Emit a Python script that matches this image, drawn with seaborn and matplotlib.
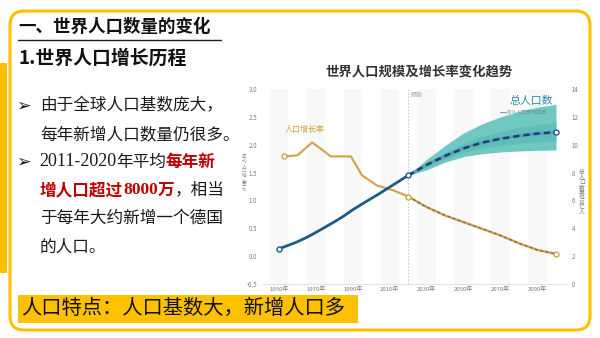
import matplotlib
matplotlib.use("Agg")
import matplotlib.pyplot as plt
from matplotlib.patches import FancyBboxPatch, Rectangle
import seaborn as sns

# ---- data -------------------------------------------------------------
# annual growth rate of world population (%), period midpoints
rate_hist_years = [1953, 1960, 1968, 1973, 1978, 1989, 1995, 2003, 2012, 2020]
rate_hist = [1.79, 1.81, 2.04, 1.92, 1.79, 1.79, 1.45, 1.27, 1.18, 1.07]
rate_proj_years = [2020, 2030, 2040, 2050, 2060, 2070, 2080, 2090, 2100]
rate_proj = [1.07, 0.88, 0.73, 0.61, 0.49, 0.37, 0.23, 0.11, 0.04]

# total population (billions)
pop_hist_years = [1950, 1955, 1960, 1965, 1970, 1975, 1980, 1985,
                  1990, 1995, 2000, 2005, 2010, 2015, 2020]
pop_hist = [2.53, 2.77, 3.03, 3.34, 3.70, 4.08, 4.46, 4.87,
            5.33, 5.74, 6.14, 6.54, 6.96, 7.38, 7.80]
pop_proj_years = [2020, 2030, 2040, 2050, 2060, 2070, 2080, 2090, 2100]
pop_proj = [7.80, 8.55, 9.20, 9.74, 10.15, 10.43, 10.64, 10.80, 10.90]
pop_lo95 = [7.80, 8.20, 8.75, 9.15, 9.35, 9.48, 9.55, 9.60, 9.62]
pop_hi95 = [7.80, 8.95, 9.95, 10.85, 11.50, 12.00, 12.40, 12.70, 12.90]
pop_lo80 = [7.80, 8.38, 8.98, 9.45, 9.75, 9.95, 10.10, 10.20, 10.26]
pop_hi80 = [7.80, 8.72, 9.45, 10.10, 10.60, 10.95, 11.25, 11.45, 11.60]

year_ticks = [1950, 1970, 1990, 2010, 2030, 2050, 2070, 2090]
year_labels = ["1950年", "1970年", "1990年", "2010年", "2030年", "2050年", "2070年", "2090年"]
rate_ticks = [-0.5, 0.0, 0.5, 1.0, 1.5, 2.0, 2.5, 3.0]
pop_ticks = [0, 2, 4, 6, 8, 10, 12, 14]
forecast_start = 2020

# ---- style ------------------------------------------------------------
sns.set_theme(style="white")
CJK = ["Noto Sans CJK SC", "DejaVu Sans"]
plt.rcParams["font.family"] = CJK

YELLOW = "#FFC000"
GOLD = "#D2A24A"
BLUE = "#1E5C86"
TEAL = "#70C8C1"
TEAL_DARK = "#4DB3AE"
RED = "#C00000"
W, H = 600, 338

fig = plt.figure(figsize=(6.0, 3.38), dpi=100)
fig.patch.set_facecolor("white")

# slide layer in pixel coordinates
bg = fig.add_axes([0, 0, 1, 1])
bg.set_zorder(-10)
bg.set_xlim(0, W)
bg.set_ylim(H, 0)
bg.axis("off")

bg.add_patch(FancyBboxPatch((10, 11), 580, 319,
                            boxstyle="round,pad=0,rounding_size=14",
                            ec=YELLOW, fc="white", lw=2.2, zorder=1))
bg.add_patch(Rectangle((0, 63), 7, 210, fc=YELLOW, ec="none", zorder=1))

bg.text(18, 27, "一、世界人口数量的变化", fontsize=12.6, fontweight="bold",
        color="#111111", va="center", ha="left", family=CJK)
bg.plot([18, 221], [39.5, 39.5], color="#222222", lw=1.0)
bg.text(19, 58, "1.世界人口增长历程", fontsize=13.6, fontweight="bold",
        color="#111111", va="center", ha="left", family=CJK)

renderer = fig.canvas.get_renderer()


def runs(x, y, parts):
    for s, kw in parts:
        t = bg.text(x, y, s, va="center", ha="left", zorder=3, **kw)
        x += t.get_window_extent(renderer).width


TXT = dict(fontsize=12, color="#1a1a1a", family=CJK)
RTXT = dict(fontsize=12, color=RED, fontweight="bold", family=CJK)
ARROW = dict(fontsize=12.5, color="#1a1a1a", family=["DejaVu Sans"])
SERIF = dict(fontsize=13, color="#1a1a1a", family=["Liberation Serif"])
RSERIF = dict(fontsize=12.5, color=RED, fontweight="bold", family=["Liberation Serif"])

bg.text(16, 106, "➢", va="center", ha="left", **ARROW)
runs(40, 106, [("由于全球人口基数庞大，", TXT)])
runs(40, 134.5, [("每年新增人口数量仍很多。", TXT)])
bg.text(16, 162, "➢", va="center", ha="left", **ARROW)
runs(39, 162, [("2011-2020", SERIF), ("年平均", TXT), ("每年新", RTXT)])
runs(40, 190, [("增人口超过", RTXT), ("8000", RSERIF), ("万", RTXT), ("，相当", TXT)])
runs(40, 218.5, [("于每年大约新增一个德国", TXT)])
runs(40, 247, [("的人口。", TXT)])

bg.add_patch(Rectangle((18, 294.5), 340, 28.5, fc=YELLOW, ec="none", zorder=2))
bg.text(21, 308.5, "人口特点：人口基数大，新增人口多", fontsize=14.6,
        color="#111111", va="center", ha="left", family=CJK, zorder=3)

# chart title
bg.text(419, 72, "世界人口规模及增长率变化趋势", fontsize=9.6, fontweight="bold",
        color="#333333", va="center", ha="center", family=CJK, zorder=3)

# ---- chart ------------------------------------------------------------
left_px, right_px, top_px, bot_px = 263, 566, 89, 284
ax = fig.add_axes([left_px / W, (H - bot_px) / H,
                   (right_px - left_px) / W, (bot_px - top_px) / H])
ax.set_facecolor("white")
ax.set_xlim(1941.4, 2105.4)
ax.set_ylim(-0.5, 3.0)

# alternating decade columns
for start in range(1945, 2105, 20):
    ax.axvspan(start, start + 10, color="#f8f8f8", lw=0, zorder=0)

ax2 = ax.twinx()
ax2.set_ylim(0, 14)
ax2.patch.set_visible(False)

# prediction band and population
ax2.fill_between(pop_proj_years, pop_lo95, pop_hi95, color=TEAL, lw=0, zorder=1)
ax2.fill_between(pop_proj_years, pop_lo80, pop_hi80, color=TEAL_DARK, lw=0,
                 alpha=0.45, zorder=1)
sns.lineplot(x=pop_hist_years, y=pop_hist, ax=ax2, color=BLUE, lw=2.0, zorder=3)
sns.lineplot(x=pop_proj_years, y=pop_proj, ax=ax2, color="#5b9cc4", lw=2.2, zorder=3)
sns.lineplot(x=pop_proj_years, y=pop_proj, ax=ax2, color="#17466a", lw=1.8,
             linestyle=(0, (2.5, 1.6)), zorder=4)
ax2.plot([pop_hist_years[0], pop_hist_years[-1], pop_proj_years[-1]],
         [pop_hist[0], pop_hist[-1], pop_proj[-1]], "o", ms=3.6, mfc="white",
         mec=BLUE, mew=1.0, zorder=5)

# growth rate
sns.lineplot(x=rate_hist_years, y=rate_hist, ax=ax, color=GOLD, lw=1.5, zorder=3)
sns.lineplot(x=rate_proj_years, y=rate_proj, ax=ax, color=GOLD, lw=1.7, zorder=3)
sns.lineplot(x=rate_proj_years, y=rate_proj, ax=ax, color="#6f6a60", lw=0.9,
             linestyle=(0, (2.2, 2.2)), zorder=3)
ax.plot([rate_hist_years[0], rate_hist_years[-1], rate_proj_years[-1]],
        [rate_hist[0], rate_hist[-1], rate_proj[-1]], "o", ms=3.6, mfc="white",
        mec=GOLD, mew=1.0, zorder=5)

ax.axvline(forecast_start, color="#c8c8c8", lw=0.8, ls=(0, (1.5, 1.5)), zorder=2)
ax.text(forecast_start + 1.5, 2.88, "预测", fontsize=4.2, color="#a0a0a0",
        va="center", ha="left", family=CJK)
ax.text(1953, 2.27, "人口增长率", fontsize=5.8, color="#D59B36",
        va="center", ha="left", family=CJK)
ax2.text(2098.5, 13.15, "总人口数", fontsize=7.8, color="#2A8BA8",
         va="center", ha="right", family=CJK, zorder=6)
ax2.plot([2069.5, 2073.0], [12.38, 12.38], color="#5aa9b5", lw=0.8, zorder=6)
ax2.text(2073.5, 12.38, "95%人口预测区间", fontsize=3.6, color="#6a8f96",
         va="center", ha="left", family=CJK, zorder=6)

# axes styling
ax.set_xticks(year_ticks)
ax.set_xticklabels(year_labels, fontsize=4.3, color="#7a7a7a", family=CJK)
ax.set_yticks(rate_ticks)
ax.set_yticklabels([f"{v:.1f}" for v in rate_ticks], fontsize=4.4, color="#7a7a7a")
ax2.set_yticks(pop_ticks)
ax2.set_yticklabels([str(v) for v in pop_ticks], fontsize=4.4, color="#7a7a7a")
for a in (ax, ax2):
    a.tick_params(length=0, pad=3)
    for s in a.spines.values():
        s.set_visible(False)
    a.grid(False)
    a.set_xlabel("")
    a.set_ylabel("")
ax.spines["bottom"].set_visible(True)
ax.spines["bottom"].set_color("#dddddd")
ax.spines["bottom"].set_linewidth(0.6)
ax.tick_params(axis="x", pad=1.5)
ax.tick_params(axis="y", pad=4)
ax2.tick_params(axis="y", pad=4)

fig.text(244 / W, 1 - 173 / H, "\n".join("年均人口增长率%"), fontsize=3.4,
         color="#888888", ha="center", va="center", linespacing=0.95, family=CJK)
fig.text(582 / W, 1 - 192 / H, "\n".join(["总", "人", "口", "数", "单", "位", "10", "亿", "人"]),
         fontsize=4.2, color="#777777", ha="center", va="center", linespacing=0.95,
         family=CJK)

fig.savefig("out.png", dpi=100, facecolor="white")
